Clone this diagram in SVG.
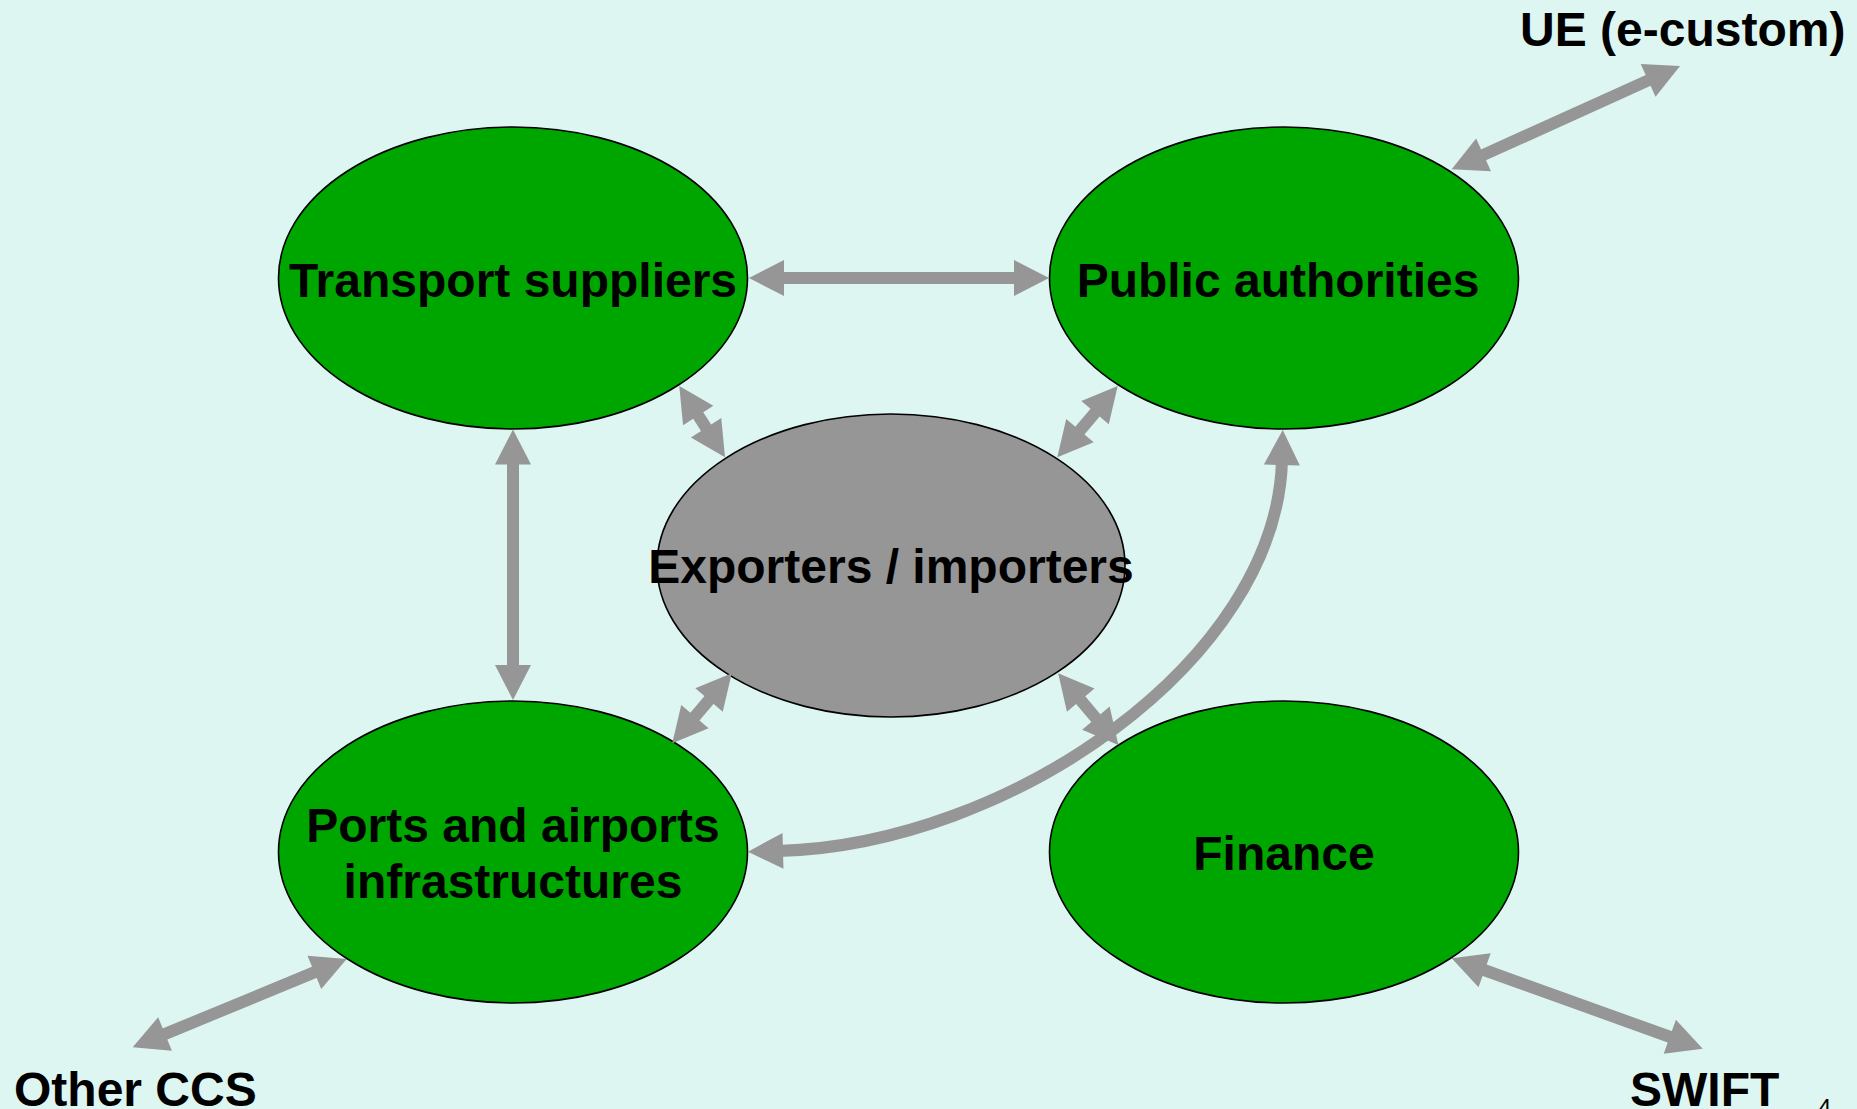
<svg xmlns="http://www.w3.org/2000/svg" width="1857" height="1109" viewBox="0 0 1857 1109">
<style>
.bg{fill:#DDF6F2}
.node{fill:#00A600;stroke:#000;stroke-width:1.6}
.center{fill:#969696;stroke:#000;stroke-width:1.6}
.lbl{font-family:"Liberation Sans",Arial,sans-serif;font-weight:bold;font-size:48px;fill:#000;text-anchor:middle}
.ext{font-family:"Liberation Sans",Arial,sans-serif;font-weight:bold;font-size:48px;fill:#000}
.conn{fill:none;stroke:#969696;stroke-width:12;marker-start:url(#ah);marker-end:url(#ah)}
</style>
<defs>
<marker id="ah" markerUnits="userSpaceOnUse" markerWidth="40" markerHeight="40" refX="5" refY="18" orient="auto-start-reverse" overflow="visible">
<path d="M0,0 L35,18 L0,36 Z" fill="#969696"/>
</marker>
</defs>
<rect class="bg" x="0" y="0" width="1857" height="1109"/>
<g id="node-transport">
<ellipse class="node" cx="513" cy="278" rx="234.5" ry="151"/>
<text class="lbl" x="513" y="297">Transport suppliers</text>
</g>
<g id="node-public">
<ellipse class="node" cx="1284" cy="278" rx="234.5" ry="151"/>
<text class="lbl" x="1278" y="297">Public authorities</text>
</g>
<g id="node-ports">
<ellipse class="node" cx="513" cy="852" rx="234.5" ry="151"/>
<text class="lbl" x="513" y="842">Ports and airports</text>
<text class="lbl" x="513" y="898">infrastructures</text>
</g>
<g id="node-finance">
<ellipse class="node" cx="1284" cy="852" rx="234.5" ry="151"/>
<text class="lbl" x="1284" y="870">Finance</text>
</g>
<g id="node-exporters">
<ellipse class="center" cx="891" cy="565.5" rx="234" ry="151.5"/>
<text class="lbl" x="891" y="583">Exporters / importers</text>
</g>
<g id="connectors">
<line class="conn" x1="779" y1="278" x2="1019" y2="278"/>
<line class="conn" x1="513" y1="459.5" x2="513" y2="670"/>
<line class="conn" x1="1479" y1="156.9" x2="1652.7" y2="78.4"/>
<line class="conn" x1="160.4" y1="1035.9" x2="319" y2="970.4"/>
<line class="conn" x1="1479.9" y1="968.5" x2="1674.5" y2="1038.5"/>
<line class="conn" x1="695.5" y1="411.3" x2="708.8" y2="432"/>
<line class="conn" x1="1098.3" y1="408.9" x2="1076.7" y2="434.4"/>
<line class="conn" x1="712.3" y1="696.2" x2="691.7" y2="720.4"/>
<line class="conn" x1="1077.5" y1="696.3" x2="1099.1" y2="722"/>
<path class="conn" d="M1282,460 C1277,660 1010,845 778,851"/>
</g>
<g id="externals">
<text class="ext" x="1520" y="46">UE (e-custom)</text>
<text class="ext" x="14" y="1106">Other CCS</text>
<text class="ext" x="1630" y="1106">SWIFT</text>
<text x="1818" y="1116" style="font-family:'Liberation Sans',Arial,sans-serif;font-size:24px;fill:#000">4</text>
</g>
</svg>
